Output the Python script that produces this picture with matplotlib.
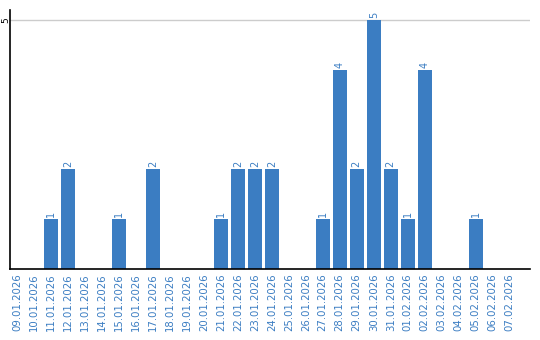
import matplotlib
matplotlib.use("Agg")
import matplotlib.pyplot as plt
import pandas as pd

dates = pd.date_range("2026-01-09", "2026-02-07", freq="D").strftime("%d.%m.%Y").tolist()
counts = [0, 0, 1, 2, 0, 0, 1, 0, 2, 0,
          0, 0, 1, 2, 2, 2, 0, 0, 1, 4,
          2, 5, 2, 1, 4, 0, 0, 1, 0, 0]

blue = "#3b7dc2"

fig = plt.figure(figsize=(5.4, 3.4), dpi=100)
ax = fig.add_axes([10 / 540, 71 / 340, 520 / 540, 259 / 340])

x = range(len(dates))
bars = ax.bar(x, counts, width=0.82, color=blue, zorder=2)
for xi, c in zip(x, counts):
    if c > 0:
        ax.text(xi, c + 0.04, str(c), rotation=90, ha="center", va="bottom",
                fontsize=7, color=blue)

ax.set_xlim(-0.41, 30.2)
ax.set_ylim(0, 5.2)
ax.set_yticks([5])
ax.set_yticklabels(["5"], rotation=90, va="center", fontsize=6.5)
ax.axhline(5, color="#cccccc", lw=1, zorder=1)

ax.set_xticks(list(x))
ax.set_xticklabels(dates, rotation=90, fontsize=7.3, color=blue)
ax.tick_params(axis="both", length=0, pad=3)
ax.tick_params(axis="y", pad=0)

for s in ["top", "right"]:
    ax.spines[s].set_visible(False)
ax.spines["left"].set_linewidth(1.2)
ax.spines["bottom"].set_linewidth(1.2)

fig.savefig("out.png", dpi=100)
